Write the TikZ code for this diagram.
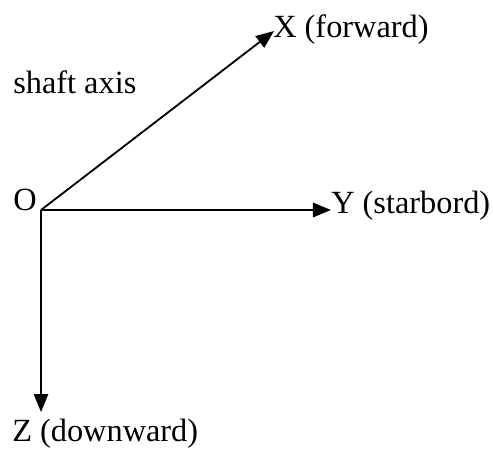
\documentclass[tikz,border=0pt]{standalone}
\usepackage{fontspec}
\setmainfont{Liberation Serif}
\usetikzlibrary{arrows.meta}

\begin{document}
\begin{tikzpicture}[
  x=0.025cm, y=-0.025cm,
  axis/.style={-{Triangle[length=0.45cm, width=0.36cm]}, line width=1.3pt},
  lbl/.style={anchor=base west, inner sep=0pt, font=\fontsize{23}{27}\selectfont},
  every node/.style={text=black}
]
\useasboundingbox (0,0) rectangle (493,448);

% ====== ORIGIN AND AXIS ENDS ======
\coordinate (origin) at (41,210);
\coordinate (xend) at (274,31);
\coordinate (yend) at (331,210);
\coordinate (zend) at (41,412);

% ====== LABELS ======
\node[lbl] (olbl) at (13,210) {O};
\node[lbl] (xlbl) at (273,37) {X (forward)};
\node[lbl] (ylbl) at (331,213) {Y (starbord)};
\node[lbl] (zlbl) at (12,441) {Z (downward)};
\node[lbl] (shaft) at (13,93) {shaft axis};

% ====== AXES ======
\draw[axis] (origin) -- (xend);
\draw[axis] (origin) -- (yend);
\draw[axis] (origin) -- (zend);

\end{tikzpicture}
\end{document}
